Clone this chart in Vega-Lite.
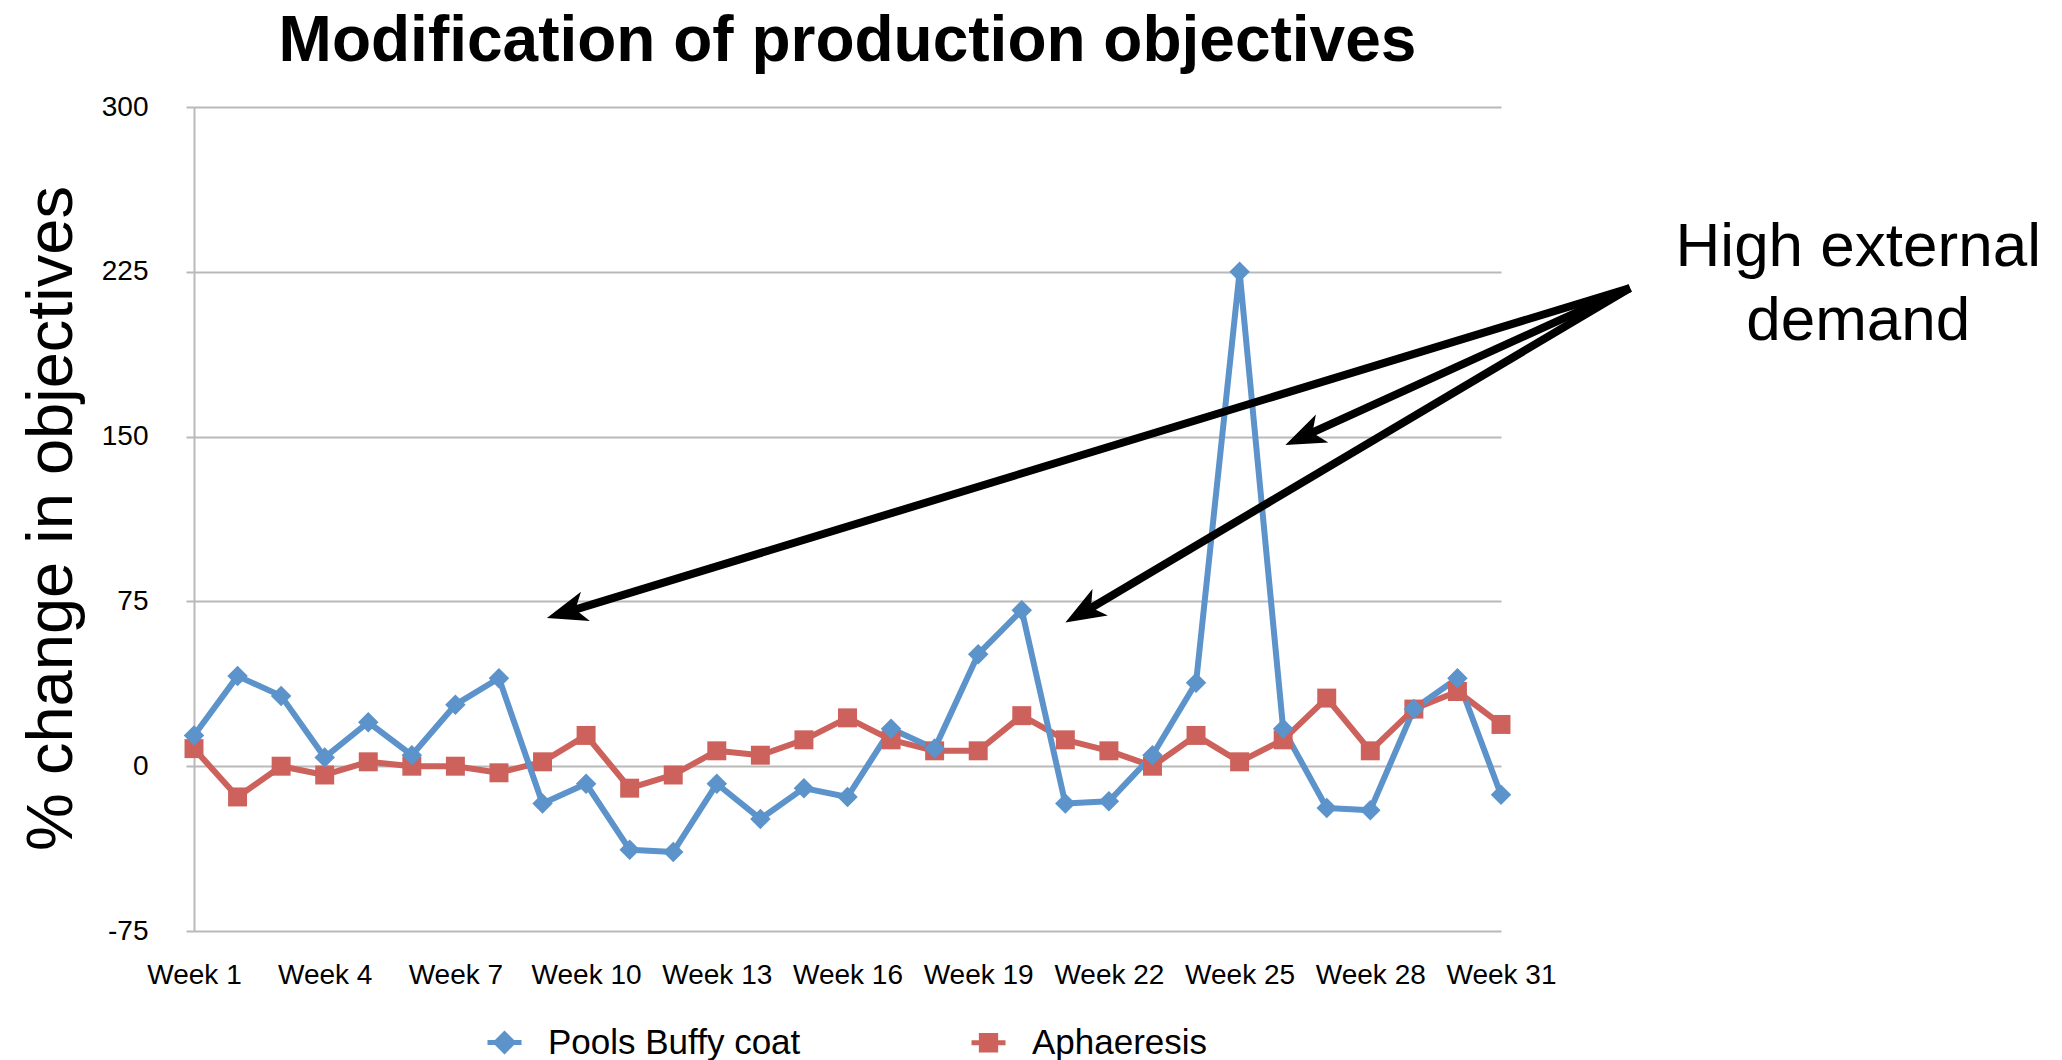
{
  "$schema": "https://vega.github.io/schema/vega-lite/v6.json",
  "width": 1307,
  "height": 824,
  "autosize": {"type": "none"},
  "padding": {"left": 194, "top": 107, "right": 561, "bottom": 129},
  "background": "white",
  "config": {
    "view": {"stroke": null},
    "font": "Liberation Sans"
  },
  "title": {
    "text": "Modification of production objectives",
    "font": "Liberation Sans",
    "fontSize": 64,
    "fontWeight": "bold",
    "color": "black",
    "anchor": "middle",
    "frame": "group",
    "baseline": "alphabetic",
    "offset": 30,
    "dy": 62
  },
  "resolve": {"scale": {"shape": "independent", "size": "independent"}},
  "datasets": {
    "series": [
      {"week": 1, "series": "Aphaeresis", "value": 8},
      {"week": 2, "series": "Aphaeresis", "value": -14},
      {"week": 3, "series": "Aphaeresis", "value": 0},
      {"week": 4, "series": "Aphaeresis", "value": -4},
      {"week": 5, "series": "Aphaeresis", "value": 2},
      {"week": 6, "series": "Aphaeresis", "value": 0},
      {"week": 7, "series": "Aphaeresis", "value": 0},
      {"week": 8, "series": "Aphaeresis", "value": -3},
      {"week": 9, "series": "Aphaeresis", "value": 2},
      {"week": 10, "series": "Aphaeresis", "value": 14},
      {"week": 11, "series": "Aphaeresis", "value": -10},
      {"week": 12, "series": "Aphaeresis", "value": -4},
      {"week": 13, "series": "Aphaeresis", "value": 7},
      {"week": 14, "series": "Aphaeresis", "value": 5},
      {"week": 15, "series": "Aphaeresis", "value": 12},
      {"week": 16, "series": "Aphaeresis", "value": 22},
      {"week": 17, "series": "Aphaeresis", "value": 12},
      {"week": 18, "series": "Aphaeresis", "value": 7},
      {"week": 19, "series": "Aphaeresis", "value": 7},
      {"week": 20, "series": "Aphaeresis", "value": 23},
      {"week": 21, "series": "Aphaeresis", "value": 12},
      {"week": 22, "series": "Aphaeresis", "value": 7},
      {"week": 23, "series": "Aphaeresis", "value": 0},
      {"week": 24, "series": "Aphaeresis", "value": 14},
      {"week": 25, "series": "Aphaeresis", "value": 2},
      {"week": 26, "series": "Aphaeresis", "value": 12},
      {"week": 27, "series": "Aphaeresis", "value": 31},
      {"week": 28, "series": "Aphaeresis", "value": 7},
      {"week": 29, "series": "Aphaeresis", "value": 26},
      {"week": 30, "series": "Aphaeresis", "value": 34},
      {"week": 31, "series": "Aphaeresis", "value": 19},
      {"week": 1, "series": "Pools Buffy coat", "value": 14},
      {"week": 2, "series": "Pools Buffy coat", "value": 41},
      {"week": 3, "series": "Pools Buffy coat", "value": 32},
      {"week": 4, "series": "Pools Buffy coat", "value": 4},
      {"week": 5, "series": "Pools Buffy coat", "value": 20},
      {"week": 6, "series": "Pools Buffy coat", "value": 5},
      {"week": 7, "series": "Pools Buffy coat", "value": 28},
      {"week": 8, "series": "Pools Buffy coat", "value": 40},
      {"week": 9, "series": "Pools Buffy coat", "value": -17},
      {"week": 10, "series": "Pools Buffy coat", "value": -8},
      {"week": 11, "series": "Pools Buffy coat", "value": -38},
      {"week": 12, "series": "Pools Buffy coat", "value": -39},
      {"week": 13, "series": "Pools Buffy coat", "value": -8},
      {"week": 14, "series": "Pools Buffy coat", "value": -24},
      {"week": 15, "series": "Pools Buffy coat", "value": -10},
      {"week": 16, "series": "Pools Buffy coat", "value": -14},
      {"week": 17, "series": "Pools Buffy coat", "value": 17},
      {"week": 18, "series": "Pools Buffy coat", "value": 8},
      {"week": 19, "series": "Pools Buffy coat", "value": 51},
      {"week": 20, "series": "Pools Buffy coat", "value": 71},
      {"week": 21, "series": "Pools Buffy coat", "value": -17},
      {"week": 22, "series": "Pools Buffy coat", "value": -16},
      {"week": 23, "series": "Pools Buffy coat", "value": 5},
      {"week": 24, "series": "Pools Buffy coat", "value": 38},
      {"week": 25, "series": "Pools Buffy coat", "value": 225},
      {"week": 26, "series": "Pools Buffy coat", "value": 17},
      {"week": 27, "series": "Pools Buffy coat", "value": -19},
      {"week": 28, "series": "Pools Buffy coat", "value": -20},
      {"week": 29, "series": "Pools Buffy coat", "value": 26},
      {"week": 30, "series": "Pools Buffy coat", "value": 40},
      {"week": 31, "series": "Pools Buffy coat", "value": -13}
    ],
    "arrows": [
      {"arrow": "a1", "x1": 33.96, "y1": 217.6, "x2": 9.65, "y2": 70.7, "tx": 9.10, "ty": 67.4},
      {"arrow": "a2", "x1": 33.96, "y1": 217.6, "x2": 26.60, "y2": 151.2, "tx": 26.05, "ty": 146.2},
      {"arrow": "a3", "x1": 33.96, "y1": 217.6, "x2": 21.50, "y2": 71.0, "tx": 21.00, "ty": 65.4}
    ],
    "note": [
      {"label": ["High external", "demand"], "x": 39.2, "y": 236.3}
    ]
  },
  "layer": [
    {
      "data": {"name": "series"},
      "mark": {"type": "line", "strokeWidth": 6, "strokeJoin": "round"},
      "encoding": {
        "x": {
          "field": "week",
          "type": "quantitative",
          "scale": {"domain": [1, 31], "nice": false, "zero": false},
          "axis": {
            "title": null,
            "values": [1, 4, 7, 10, 13, 16, 19, 22, 25, 28, 31],
            "labelExpr": "'Week ' + datum.value",
            "labelFont": "Liberation Sans",
            "labelFontSize": 28,
            "labelColor": "black",
            "labelPadding": 30,
            "labelFlush": false,
            "labelOverlap": false,
            "domain": false,
            "ticks": false,
            "grid": false
          }
        },
        "y": {
          "field": "value",
          "type": "quantitative",
          "scale": {"domain": [-75, 300], "nice": false, "zero": false},
          "axis": {
            "values": [-75, 0, 75, 150, 225, 300],
            "labelExpr": "'' + datum.value",
            "title": "% change in objectives",
            "titleFont": "Liberation Sans",
            "titleFontSize": 65,
            "titleFontWeight": "normal",
            "titleColor": "black",
            "titleAngle": -90,
            "titleAlign": "center",
            "titleBaseline": "alphabetic",
            "titleX": -123,
            "titleY": 411,
            "labelFont": "Liberation Sans",
            "labelFontSize": 28,
            "labelColor": "black",
            "labelPadding": 38,
            "domainColor": "#b9b9b9",
            "domainWidth": 2,
            "tickColor": "#b9b9b9",
            "tickWidth": 2,
            "tickSize": 8,
            "gridColor": "#b9b9b9",
            "gridWidth": 2
          }
        },
        "color": {
          "field": "series",
          "type": "nominal",
          "scale": {"domain": ["Pools Buffy coat", "Aphaeresis"], "range": ["#5b93ca", "#cd625c"]},
          "legend": {
            "title": null,
            "orient": "none",
            "direction": "horizontal",
            "legendX": 291,
            "legendY": 916,
            "padding": 0,
            "labelFont": "Liberation Sans",
            "labelFontSize": 35,
            "labelColor": "black",
            "labelOffset": 24,
            "labelLimit": 600,
            "columnPadding": 160,
            "symbolSize": 1156,
            "symbolStrokeWidth": 5,
            "encode": {
              "symbols": {
                "update": {
                  "shape": {"signal": "datum.value === 'Aphaeresis' ? 'M-1,0H1M-0.42,-0.42H0.42V0.42H-0.42Z' : 'M-1,0H1M0,-0.5L0.5,0L0,0.5L-0.5,0Z'"},
                  "fill": {"scale": "color", "field": "value"},
                  "stroke": {"scale": "color", "field": "value"},
                  "strokeWidth": {"value": 5},
                  "opacity": {"value": 1}
                }
              }
            }
          }
        }
      }
    },
    {
      "data": {"name": "series"},
      "mark": {"type": "point", "filled": true, "opacity": 1},
      "encoding": {
        "x": {"field": "week", "type": "quantitative"},
        "y": {"field": "value", "type": "quantitative"},
        "color": {"field": "series", "type": "nominal"},
        "shape": {
          "field": "series",
          "type": "nominal",
          "scale": {"domain": ["Pools Buffy coat", "Aphaeresis"], "range": ["diamond", "square"]},
          "legend": null
        },
        "size": {
          "field": "series",
          "type": "nominal",
          "scale": {"domain": ["Pools Buffy coat", "Aphaeresis"], "range": [420, 360]},
          "legend": null
        }
      }
    },
    {
      "data": {"name": "arrows"},
      "mark": {"type": "rule", "color": "black", "strokeWidth": 8, "strokeCap": "butt"},
      "encoding": {
        "x": {"field": "x1", "type": "quantitative"},
        "y": {"field": "y1", "type": "quantitative"},
        "x2": {"field": "x2"},
        "y2": {"field": "y2"}
      }
    },
    {
      "data": {"name": "arrows"},
      "mark": {"type": "point", "filled": true, "color": "black", "opacity": 1, "size": 7200},
      "encoding": {
        "x": {"field": "tx", "type": "quantitative"},
        "y": {"field": "ty", "type": "quantitative"},
        "shape": {
          "field": "arrow",
          "type": "nominal",
          "scale": {
            "domain": ["a1", "a2", "a3"],
            "range": [
              "M0,0L0.804,-0.621L0.670,-0.204L1.014,0.068Z",
              "M0,0L0.720,-0.717L0.639,-0.286L1.014,-0.060Z",
              "M0,0L0.640,-0.789L0.605,-0.352L1.002,-0.167Z"
            ]
          },
          "legend": null
        }
      }
    },
    {
      "data": {"name": "note"},
      "mark": {
        "type": "text",
        "font": "Liberation Sans",
        "fontSize": 62,
        "color": "black",
        "align": "center",
        "baseline": "middle",
        "lineHeight": 74
      },
      "encoding": {
        "x": {"field": "x", "type": "quantitative"},
        "y": {"field": "y", "type": "quantitative"},
        "text": {"field": "label"}
      }
    }
  ]
}
